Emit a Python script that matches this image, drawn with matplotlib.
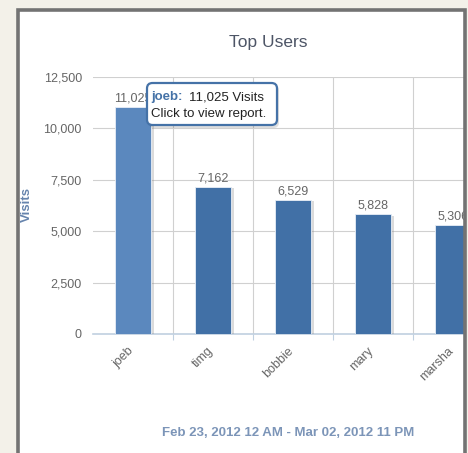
import matplotlib
matplotlib.use("Agg")
import matplotlib.pyplot as plt
import numpy as np
from matplotlib.patches import Rectangle, FancyBboxPatch
import matplotlib.patheffects as pe
import matplotlib.transforms as mtransforms

plt.rcParams['font.family'] = ['Liberation Sans', 'DejaVu Sans']

categories = ["joeb", "timg", "bobbie", "mary", "marsha"]
visits = [11025, 7162, 6529, 5828, 5306]
yticks = [0, 2500, 5000, 7500, 10000, 12500]
title = "Top Users"
ylabel = "Visits"
date_range = "Feb 23, 2012 12 AM - Mar 02, 2012 11 PM"
tooltip_name = "joeb:"
tooltip_value = "11,025 Visits"
tooltip_hint = "Click to view report."

W, H = 468, 453
BEIGE = "#f3f1e9"
fig = plt.figure(figsize=(W / 100, H / 100), dpi=100, facecolor=BEIGE)

def fx(px):
    return px / W

def fy(py):
    return (H - py) / H

# white panel inside frame
fig.add_artist(Rectangle((fx(17), fy(470)), fx(448), (470 - 11) / H,
                         transform=fig.transFigure, facecolor="white",
                         edgecolor="none", zorder=-5))

ax = fig.add_axes([fx(93), fy(334), 400 / W, 257 / H])
ax.set_facecolor("none")
x = np.arange(len(categories))
colors = ["#5b88be"] + ["#4170a6"] * (len(categories) - 1)
bars = ax.bar(x, visits, width=0.46, color=colors, edgecolor="#e8eef6",
              linewidth=0.6, zorder=3)
for b in bars:
    b.set_path_effects([pe.SimplePatchShadow(offset=(2, -1), shadow_rgbFace="#888888", alpha=0.3),
                        pe.Normal()])
for xi, v in zip(x, visits):
    ax.text(xi, v + 120, f"{v:,}", ha="center", va="bottom", fontsize=9,
            color="#666666", zorder=4)

ax.set_xlim(-0.5, len(categories) - 0.5)
ax.set_ylim(yticks[0], yticks[-1])
ax.set_yticks(yticks)
ax.set_yticklabels([f"{t:,}" for t in yticks])
ax.tick_params(axis="y", length=0, pad=8, labelsize=9, labelcolor="#666666")
ax.set_xticks(x)
ax.set_xticklabels(categories, rotation=45, ha="right", rotation_mode="anchor")
ax.tick_params(axis="x", which="major", length=0, pad=8, labelsize=9, labelcolor="#666666")
shift = mtransforms.ScaledTranslation(-0.06, 0, fig.dpi_scale_trans)
for lbl in ax.get_xticklabels():
    lbl.set_transform(lbl.get_transform() + shift)
ax.set_xticks(x[:-1] + 0.5, minor=True)
ax.tick_params(axis="x", which="minor", length=4.5, width=0.8, color="#c0d0e0")
ax.grid(axis="y", color="#d0d0d0", linewidth=0.8, zorder=0)
ax.grid(axis="x", which="minor", color="#d0d0d0", linewidth=0.8, zorder=0)
ax.set_axisbelow(True)
for s in ["top", "right", "left"]:
    ax.spines[s].set_visible(False)
ax.spines["bottom"].set_color("#c0d0e0")
ax.spines["bottom"].set_linewidth(1.2)

fig.text(fx(268), fy(43), title, ha="center", va="center", fontsize=12.5, color="#4d5566")
fig.text(fx(27), fy(205), ylabel, ha="center", va="center", rotation=90,
         fontsize=9.5, fontweight="bold", color="#6684ad")
fig.text(fx(288), fy(433), date_range, ha="center", va="center", fontsize=9.5,
         fontweight="bold", color="#7c95b8")

# tooltip
fig.add_artist(FancyBboxPatch((fx(149), fy(128)), fx(130), (128 - 85) / H,
                              boxstyle="round,pad=0,rounding_size=0.012",
                              transform=fig.transFigure, facecolor="#000000",
                              alpha=0.12, edgecolor="none", zorder=7))
fig.add_artist(FancyBboxPatch((fx(147), fy(125)), fx(130), (125 - 83) / H,
                              boxstyle="round,pad=0,rounding_size=0.012",
                              transform=fig.transFigure, facecolor="white",
                              edgecolor="#4572a7", linewidth=1.6, zorder=8))
fig.text(fx(151), fy(97), tooltip_name, ha="left", va="center", fontsize=9.5,
         fontweight="bold", color="#4572a7", zorder=9)
fig.text(fx(189), fy(97), tooltip_value, ha="left", va="center", fontsize=9.5,
         color="#222222", zorder=9)
fig.text(fx(151), fy(114), tooltip_hint, ha="left", va="center", fontsize=9.5,
         color="#222222", zorder=9)

# frame border and right-side cover
fig.add_artist(Rectangle((fx(466), 0), fx(5), 1, transform=fig.transFigure,
                         facecolor=BEIGE, edgecolor="none", zorder=10))
fig.add_artist(Rectangle((fx(17.5), fy(480)), fx(447), (480 - 10.5) / H,
                         transform=fig.transFigure, facecolor="none",
                         edgecolor="#737373", linewidth=2.6, zorder=11))

fig.savefig("out.png", dpi=100, facecolor=BEIGE)
